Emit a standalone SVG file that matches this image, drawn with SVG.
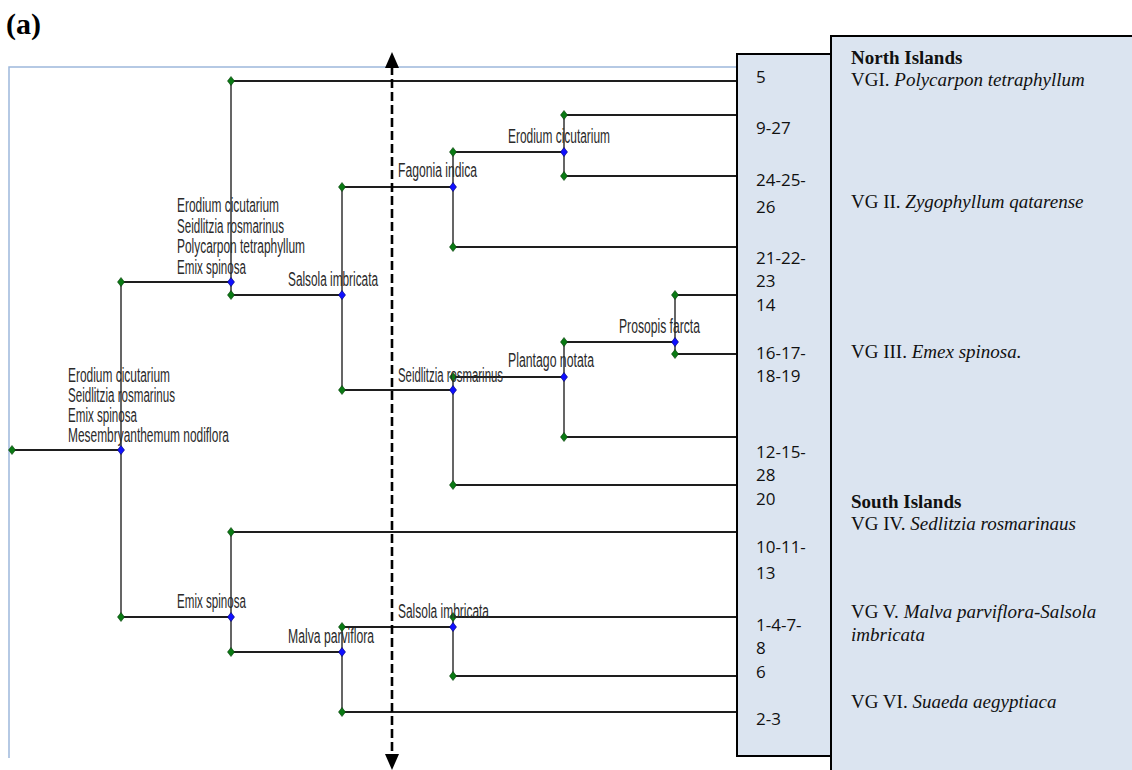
<svg xmlns="http://www.w3.org/2000/svg" xmlns:xlink="http://www.w3.org/1999/xlink" width="1132" height="770" viewBox="0 0 1132 770">
<style>
.bg{fill:#ffffff}
.frame{fill:none;stroke:#9db8dc;stroke-width:1.5}
.h{stroke:#1e1e1e;stroke-width:2;fill:none}
.v{stroke:#333333;stroke-width:1.5;fill:none}
.dash{stroke:#000;stroke-width:2.6;stroke-dasharray:9 4;fill:none}
.gn{fill:#0a7a14;stroke:#0b3d0e;stroke-width:0.6}
.bn{fill:#1010ff;stroke:#00006a;stroke-width:0.6}
.lbl{font-family:"Liberation Sans",Arial,sans-serif;font-size:19.5px;fill:#2a2a2a}
.num{font-family:"Open Sans","Liberation Sans",sans-serif;font-size:17px;fill:#111}
.vg{font-family:"Liberation Serif","Times New Roman",serif;font-size:19px;fill:#111}
.box{fill:#dbe4f0;stroke:#000;stroke-width:2}
.title{font-family:"Liberation Serif","Times New Roman",serif;font-size:30px;font-weight:bold;fill:#000}
</style>
<defs>
<path id="dia" d="M0,-4.5 L3.5,0 L0,4.5 L-3.5,0 Z"/>
<marker id="arr" viewBox="0 0 16 14" refX="2" refY="7" markerWidth="16" markerHeight="14" markerUnits="userSpaceOnUse" orient="auto-start-reverse">
<path d="M0,0 L0,14 L16,7 Z" fill="#000"/>
</marker>
</defs>
<rect class="bg" x="0" y="0" width="1132" height="770"/>
<text class="title" x="6" y="34">(a)</text>
<path class="frame" d="M9,758 L9,67 L737,67"/>

<g id="connectors">
<path class="h" d="M12,450 H121 M121,282 H231 M121,617 H231 M231,81 H737 M231,295 H342 M342,187 H453 M342,390 H453 M453,152 H564 M453,247 H737 M564,115 H737 M564,176 H737 M453,377 H564 M453,485 H737 M564,342 H675 M564,437 H737 M675,295 H737 M675,354 H737 M231,532 H737 M231,652 H342 M342,627 H453 M342,712 H737 M453,617 H737 M453,676 H737"/>
<path class="v" d="M121,282 V617 M231,81 V295 M342,187 V390 M453,152 V247 M564,115 V176 M453,377 V485 M564,342 V437 M675,295 V354 M231,532 V652 M342,627 V712 M453,617 V676"/>
</g>

<g id="leaves">
<use href="#dia" class="gn" x="12" y="450"/>
<use href="#dia" class="gn" x="121" y="282"/>
<use href="#dia" class="gn" x="121" y="617"/>
<use href="#dia" class="gn" x="231" y="81"/>
<use href="#dia" class="gn" x="231" y="295"/>
<use href="#dia" class="gn" x="342" y="187"/>
<use href="#dia" class="gn" x="342" y="390"/>
<use href="#dia" class="gn" x="453" y="152"/>
<use href="#dia" class="gn" x="453" y="247"/>
<use href="#dia" class="gn" x="564" y="115"/>
<use href="#dia" class="gn" x="564" y="176"/>
<use href="#dia" class="gn" x="453" y="377"/>
<use href="#dia" class="gn" x="453" y="485"/>
<use href="#dia" class="gn" x="564" y="342"/>
<use href="#dia" class="gn" x="564" y="437"/>
<use href="#dia" class="gn" x="675" y="295"/>
<use href="#dia" class="gn" x="675" y="354"/>
<use href="#dia" class="gn" x="231" y="532"/>
<use href="#dia" class="gn" x="231" y="652"/>
<use href="#dia" class="gn" x="342" y="627"/>
<use href="#dia" class="gn" x="342" y="712"/>
<use href="#dia" class="gn" x="453" y="617"/>
<use href="#dia" class="gn" x="453" y="676"/>
</g>

<g id="node-root">
<text class="lbl" x="68" y="381.5" textLength="102" lengthAdjust="spacingAndGlyphs">Erodium cicutarium</text>
<text class="lbl" x="68" y="401.5" textLength="107" lengthAdjust="spacingAndGlyphs">Seidlitzia rosmarinus</text>
<text class="lbl" x="68" y="422" textLength="69" lengthAdjust="spacingAndGlyphs">Emix spinosa</text>
<text class="lbl" x="68" y="442" textLength="161" lengthAdjust="spacingAndGlyphs">Mesembryanthemum nodiflora</text>
<use href="#dia" class="bn" x="121" y="450"/>
</g>
<g id="node-north">
<text class="lbl" x="177" y="212" textLength="102" lengthAdjust="spacingAndGlyphs">Erodium cicutarium</text>
<text class="lbl" x="177" y="232.5" textLength="107" lengthAdjust="spacingAndGlyphs">Seidlitzia rosmarinus</text>
<text class="lbl" x="177" y="253" textLength="128" lengthAdjust="spacingAndGlyphs">Polycarpon tetraphyllum</text>
<text class="lbl" x="177" y="273.5" textLength="69" lengthAdjust="spacingAndGlyphs">Emix spinosa</text>
<use href="#dia" class="bn" x="231" y="282"/>
</g>
<g id="node-salsola-upper">
<text class="lbl" x="288" y="285.5" textLength="90" lengthAdjust="spacingAndGlyphs">Salsola imbricata</text>
<use href="#dia" class="bn" x="342" y="295"/>
</g>
<g id="node-fagonia">
<text class="lbl" x="398" y="177" textLength="79" lengthAdjust="spacingAndGlyphs">Fagonia indica</text>
<use href="#dia" class="bn" x="453" y="187"/>
</g>
<g id="node-erodium">
<text class="lbl" x="508" y="143" textLength="102" lengthAdjust="spacingAndGlyphs">Erodium cicutarium</text>
<use href="#dia" class="bn" x="564" y="152"/>
</g>
<g id="node-seidlitzia">
<text class="lbl" x="398" y="381.5" textLength="105" lengthAdjust="spacingAndGlyphs">Seidlitzia rosmarinus</text>
<use href="#dia" class="bn" x="453" y="390"/>
</g>
<g id="node-plantago">
<text class="lbl" x="508" y="367" textLength="86" lengthAdjust="spacingAndGlyphs">Plantago notata</text>
<use href="#dia" class="bn" x="564" y="377"/>
</g>
<g id="node-prosopis">
<text class="lbl" x="619" y="333" textLength="81" lengthAdjust="spacingAndGlyphs">Prosopis farcta</text>
<use href="#dia" class="bn" x="675" y="342"/>
</g>
<g id="node-emix">
<text class="lbl" x="177" y="608" textLength="69" lengthAdjust="spacingAndGlyphs">Emix spinosa</text>
<use href="#dia" class="bn" x="231" y="617"/>
</g>
<g id="node-malva">
<text class="lbl" x="288" y="643" textLength="86" lengthAdjust="spacingAndGlyphs">Malva parviflora</text>
<use href="#dia" class="bn" x="342" y="652"/>
</g>
<g id="node-salsola-lower">
<text class="lbl" x="398" y="618" textLength="91" lengthAdjust="spacingAndGlyphs">Salsola imbricata</text>
<use href="#dia" class="bn" x="453" y="627"/>
</g>

<g id="cut-line">
<path class="dash" d="M392,66 V756" marker-start="url(#arr)" marker-end="url(#arr)"/>
</g>

<g id="sites-box">
<rect class="box" x="737" y="54" width="94" height="702"/>
<text class="num" x="756" y="83">5</text>
<text class="num" x="756" y="134">9-27</text>
<text class="num" x="756" y="186">24-25-</text>
<text class="num" x="756" y="213">26</text>
<text class="num" x="756" y="264">21-22-</text>
<text class="num" x="756" y="287">23</text>
<text class="num" x="756" y="311">14</text>
<text class="num" x="756" y="359">16-17-</text>
<text class="num" x="756" y="382">18-19</text>
<text class="num" x="756" y="458">12-15-</text>
<text class="num" x="756" y="481">28</text>
<text class="num" x="756" y="505">20</text>
<text class="num" x="756" y="553">10-11-</text>
<text class="num" x="756" y="579">13</text>
<text class="num" x="756" y="631">1-4-7-</text>
<text class="num" x="756" y="654">8</text>
<text class="num" x="756" y="678">6</text>
<text class="num" x="756" y="725">2-3</text>
</g>

<g id="groups-box">
<rect class="box" x="831" y="36" width="310" height="745"/>
<text class="vg" x="851" y="64" font-weight="bold">North Islands</text>
<text class="vg" x="851" y="86">VGI. <tspan font-style="italic">Polycarpon tetraphyllum</tspan></text>
<text class="vg" x="851" y="208">VG II. <tspan font-style="italic">Zygophyllum qatarense</tspan></text>
<text class="vg" x="851" y="357.5">VG III. <tspan font-style="italic">Emex spinosa.</tspan></text>
<text class="vg" x="851" y="508" font-weight="bold">South Islands</text>
<text class="vg" x="851" y="530">VG IV. <tspan font-style="italic">Sedlitzia rosmarinaus</tspan></text>
<text class="vg" x="851" y="618">VG V. <tspan font-style="italic">Malva parviflora-Salsola</tspan></text>
<text class="vg" x="851" y="641" font-style="italic">imbricata</text>
<text class="vg" x="851" y="708">VG VI. <tspan font-style="italic">Suaeda aegyptiaca</tspan></text>
</g>
</svg>
